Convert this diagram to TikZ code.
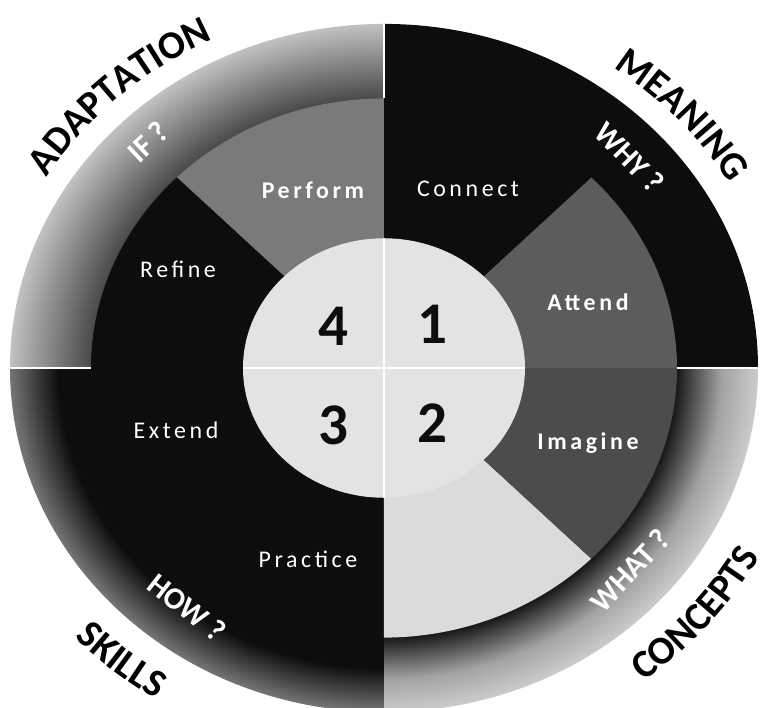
\documentclass[tikz,border=0pt]{standalone}
\usepackage{fontspec}
\setmainfont{Carlito}
\newfontfamily\wordfont[LetterSpace=15]{Carlito}
\usetikzlibrary{decorations.text}
\definecolor{ink}{gray}{0.05}
\definecolor{ash}{gray}{0.30}
\definecolor{slate}{gray}{0.36}
\definecolor{stone}{gray}{0.48}
\definecolor{mist}{gray}{0.86}
\definecolor{core}{gray}{0.89}
\definecolor{fogA}{gray}{0.28}
\definecolor{fogB}{gray}{0.54}
\definecolor{fogC}{gray}{0.76}
\definecolor{bandA}{gray}{0.10}
\definecolor{bandB}{gray}{0.32}
\definecolor{bandC}{gray}{0.64}
\definecolor{bandD}{gray}{0.80}
\definecolor{edgeS}{gray}{0.46}
% ring shadings, 25bp = outer radius
\pgfdeclareradialshading{adaptring}{\pgfpoint{0bp}{0bp}}{color(0bp)=(fogA); color(19.5bp)=(fogA); color(22.5bp)=(fogB); color(25bp)=(fogC); color(50bp)=(fogC)}
\pgfdeclareradialshading{conceptring}{\pgfpoint{0bp}{0bp}}{color(0bp)=(bandA); color(19.6bp)=(bandA); color(20.8bp)=(bandB); color(22.6bp)=(bandC); color(25bp)=(bandD); color(50bp)=(bandD)}
\pgfdeclareradialshading{skillring}{\pgfpoint{0bp}{0bp}}{color(0bp)=(ink); color(21.8bp)=(ink); color(25bp)=(edgeS); color(50bp)=(edgeS)}
\tikzset{
  verb/.style={text=white, inner sep=0pt, font=\wordfont\fontsize{17}{18}\selectfont},
  verbbold/.style={verb, font=\wordfont\bfseries\fontsize{17}{18}\selectfont},
  num/.style={text=ink, inner sep=0pt, font=\bfseries\fontsize{42}{44}\selectfont},
  ask/.style={text=white, inner sep=0pt, font=\bfseries\fontsize{22}{24}\selectfont},
  sep/.style={white, line width=1.2pt},
}
\newcommand\catfont{\bfseries\fontsize{28}{30}\selectfont}

\begin{document}
\begin{tikzpicture}[x=0.025cm, y=0.023cm]
  \useasboundingbox (-384,-368.5) rectangle (379,400);

  % outer ring, one quadrant at a time
  \begin{scope}
    \clip (0,0) -- (90:374) arc[start angle=90, end angle=180, radius=374] -- cycle;
    \shade[shading=adaptring] (0,0) circle (374);
  \end{scope}
  \fill[ink] (0,0) -- (0:374) arc[start angle=0, end angle=90, radius=374] -- cycle;
  \begin{scope}
    \clip (0,0) -- (270:374) arc[start angle=270, end angle=360, radius=374] -- cycle;
    \shade[shading=conceptring] (0,0) circle (374);
  \end{scope}
  \begin{scope}
    \clip (0,0) -- (180:374) arc[start angle=180, end angle=270, radius=374] -- cycle;
    \shade[shading=skillring] (0,0) circle (374);
  \end{scope}

  % inner segments
  \foreach \a/\c in {0/slate, 45/ink, 90/stone, 135/ink, 180/ink, 225/ink, 270/mist, 315/ash}
    \fill[\c] (0,0) -- (\a:293) arc[start angle=\a, end angle=\a+45, radius=293] -- cycle;

  \foreach \a in {0, 90, 180}
    \draw[sep] (\a:293) -- (\a:374);

  % centre disc
  \fill[core] (0,0) circle (141);
  \draw[white, line width=0.8pt] (0,-141) -- (0,141) (-141,0) -- (141,0);

  \node[num] (n4) at (-51, 45) {4};
  \node[num] (n1) at (48, 47) {1};
  \node[num] (n3) at (-51, -62) {3};
  \node[num] (n2) at (48, -60) {2};

  \node[verb]     (connect)  at (84, 195)   {Connect};
  \node[verbbold] (attend)   at (204, 72)   {Attend};
  \node[verbbold] (imagine)  at (204, -82)  {Imagine};
  \node[verb]     (practice) at (-76, -208) {Practice};
  \node[verb]     (extend)   at (-208, -68) {Extend};
  \node[verb]     (refine)   at (-206, 107) {Refine};
  \node[verbbold] (perform)  at (-71, 193)  {Perform};

  \node[ask, rotate=43]  (askif)   at (-236, 246) {IF ?};
  \node[ask, rotate=-46] (askwhy)  at (246, 229)  {WHY ?};
  \node[ask, rotate=47]  (askwhat) at (246, -220) {WHAT ?};
  \node[ask, rotate=-38] (askhow)  at (-197, -260) {HOW ?};

  % curved headings
  \path[decorate, decoration={text along path, text align=center, text={|\catfont|ADAPTATION}}]
    (165:396) arc[start angle=165, end angle=100, radius=396];
  \path[decorate, decoration={text along path, text align=center, text={|\catfont|MEANING}}]
    (72:399) arc[start angle=72, end angle=12, radius=399];
  \path[decorate, decoration={text along path, text align=center, text={|\catfont|SKILLS}}]
    (200:426) arc[start angle=200, end angle=260, radius=426];
  \path[decorate, decoration={text along path, text align=center, text={|\catfont|CONCEPTS}}]
    (285:428) arc[start angle=285, end angle=355, radius=428];
\end{tikzpicture}
\end{document}
